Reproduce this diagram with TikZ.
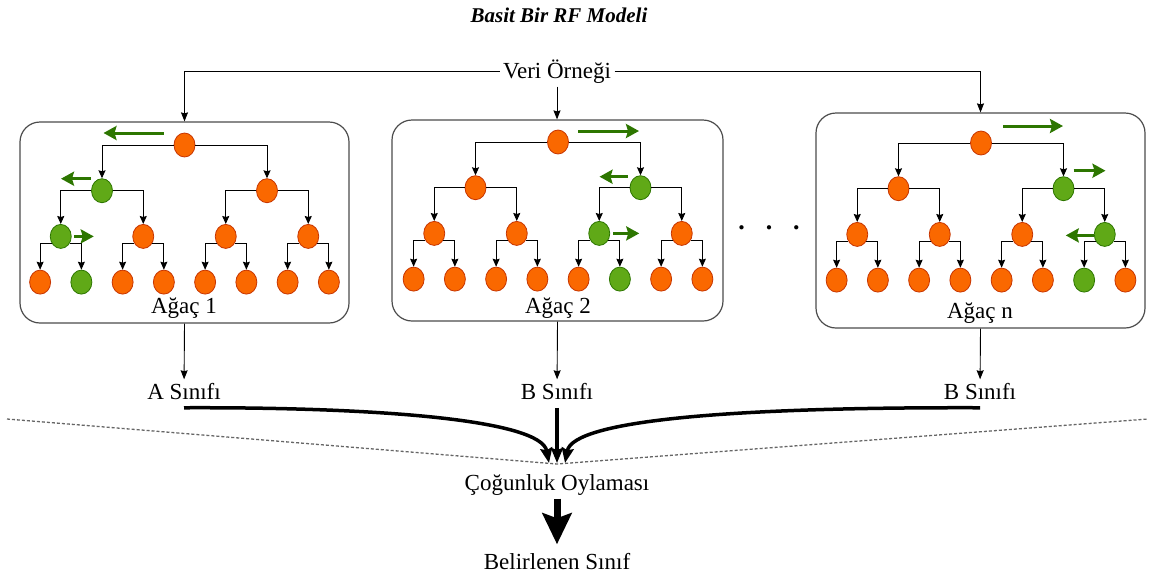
\documentclass[tikz,border=0pt]{standalone}
\usepackage{fontspec}
\setmainfont{Liberation Serif}
\usetikzlibrary{arrows.meta,shapes.geometric}

\definecolor{leaforange}{HTML}{FA6800}
\definecolor{leafline}{HTML}{C73500}
\definecolor{pathgreen}{HTML}{60A917}
\definecolor{pathline}{HTML}{2D7600}

\begin{document}
\begin{tikzpicture}[x=1pt,y=-1pt,
    every node/.style={font=\fontsize{23}{27}\selectfont},
    split/.style={ellipse,draw=leafline,fill=leaforange,line width=0.8pt,minimum width=21pt,minimum height=24pt,inner sep=0pt},
    picked/.style={split,draw=pathline,fill=pathgreen},
    edge/.style={black,line width=1pt,-{Stealth[length=8pt,width=7pt,inset=1pt]}},
    hint/.style={pathline,line width=3pt,-{Stealth[length=13pt,width=14pt,inset=2pt]}},
    treebox/.style={draw=black!70,line width=1.2pt,rounded corners=20pt,inner sep=0pt},
    feed/.style={black,line width=0.9pt,-{Stealth[length=9pt,width=7pt,inset=1pt]}},
    vote/.style={black,line width=3.5pt,-{Stealth[length=15pt,width=12pt,inset=2pt]}},
    decide/.style={black,line width=7pt,-{Stealth[length=31pt,width=29pt,inset=5pt]}},
    cut/.style={black!60,line width=1.3pt,dash pattern=on 3pt off 2pt}
]
    \useasboundingbox (0,0) rectangle (1150,582);

    % Title and input sample
    \node[anchor=base,font=\fontsize{21}{25}\selectfont\bfseries\itshape] (title) at (559,22) {Basit Bir RF Modeli};
    \node[anchor=base] (veri) at (557,78) {Veri Örneği};

    % Tree frames
    \node[treebox,minimum width=329pt,minimum height=201pt] (box1) at (184.5,222.5) {};
    \node[treebox,minimum width=331pt,minimum height=201pt] (box2) at (557.5,220.5) {};
    \node[treebox,minimum width=329pt,minimum height=215pt] (box3) at (980.5,220.5) {};
    \node[anchor=base] (lab1) at (184,313) {Ağaç 1};
    \node[anchor=base] (lab2) at (558,313) {Ağaç 2};
    \node[anchor=base] (lab3) at (980,318) {Ağaç n};
    \node[font=\fontsize{11}{13}\selectfont] (dots) at (769,228) {$\bullet$\hspace{22pt}$\bullet$\hspace{22pt}$\bullet$};

    \draw[feed] (veri) -| (box1);
    \draw[feed] (veri) -- (veri |- box2.north);
    \draw[feed] (veri) -| (box3);

    % Decision trees (heap numbering, green = chosen path)
    \foreach \t/\xoff/\yoff/\ga/\gb/\gc in {1/184.5/145/2/4/9, 2/558/142/3/6/13, 3/981/143/3/7/14} {
        \foreach \l in {0,...,3} {
            \pgfmathtruncatemacro{\n}{2^\l}
            \foreach \i in {1,...,\n} {
                \pgfmathtruncatemacro{\k}{\n+\i-1}
                \pgfmathsetmacro{\x}{\xoff + (\i-0.5-\n/2)*330/\n}
                \pgfmathsetmacro{\y}{\yoff + 45.7*\l}
                \pgfmathparse{\k==\ga || \k==\gb || \k==\gc}
                \ifnum\pgfmathresult=1
                    \node[picked] (t\t-\k) at (\x,\y) {};
                \else
                    \node[split] (t\t-\k) at (\x,\y) {};
                \fi
            }
        }
        \foreach \k in {1,...,7} {
            \pgfmathtruncatemacro{\lc}{2*\k}
            \pgfmathtruncatemacro{\rc}{2*\k+1}
            \ifnum\k<4
                \draw[edge] (t\t-\k) -| (t\t-\lc);
                \draw[edge] (t\t-\k) -| (t\t-\rc);
            \else
                \draw[edge] (t\t-\k.220) -| (t\t-\lc);
                \draw[edge] (t\t-\k.320) -| (t\t-\rc);
            \fi
        }
    }

    % Direction hints
    \draw[hint] ([shift={(-21,-12)}]t1-1.center) -- ++(-60,0);
    \draw[hint] ([shift={(-11,-12)}]t1-2.center) -- ++(-30,0);
    \draw[hint] ([shift={(13,0)}]t1-4.center) -- ++(20,0);
    \draw[hint] ([shift={(20,-11)}]t2-1.center) -- ++(61,0);
    \draw[hint] ([shift={(-13,-11)}]t2-3.center) -- ++(-28,0);
    \draw[hint] ([shift={(14,0)}]t2-6.center) -- ++(26,0);
    \draw[hint] ([shift={(22,-17)}]t3-1.center) -- ++(60,0);
    \draw[hint] ([shift={(10,-18)}]t3-3.center) -- ++(32,0);
    \draw[hint] ([shift={(-11,1)}]t3-7.center) -- ++(-28,0);

    %%%%%%%%%%%%%%%%%%%%%%%%%%%%%%%%%%%%%%%%%%%%%%%%%%%%%%%%%%%%%%%%%%%%%%%%%%%%%%%%%%%%

    % Class outputs and voting
    \node[anchor=base] (cls1) at (184,399) {A Sınıfı};
    \node[anchor=base] (cls2) at (557,399) {B Sınıfı};
    \node[anchor=base] (cls3) at (980,399) {B Sınıfı};
    \draw[feed] (box1.south) -- (cls1);
    \draw[feed] (box2.south) -- (cls2);
    \draw[feed] (box3.south) -- (cls3);

    \draw[cut] (7,419) -- (557,464) -- (1148,419);

    \coordinate (vin) at (557,463);
    \draw[vote] ([yshift=-5pt]cls1.south) .. controls (380,407) and (541,420) .. ([xshift=-8pt]vin);
    \draw[vote] ([yshift=-5pt]cls2.south) -- (vin);
    \draw[vote] ([yshift=-5pt]cls3.south) .. controls (734,407) and (573,420) .. ([xshift=8pt]vin);

    \node[anchor=base] (poll) at (557,490) {Çoğunluk Oylaması};
    \node[anchor=base] (result) at (557,569) {Belirlenen Sınıf};
    \draw[decide] (poll) -- ([yshift=5pt]result.north);
\end{tikzpicture}
\end{document}
